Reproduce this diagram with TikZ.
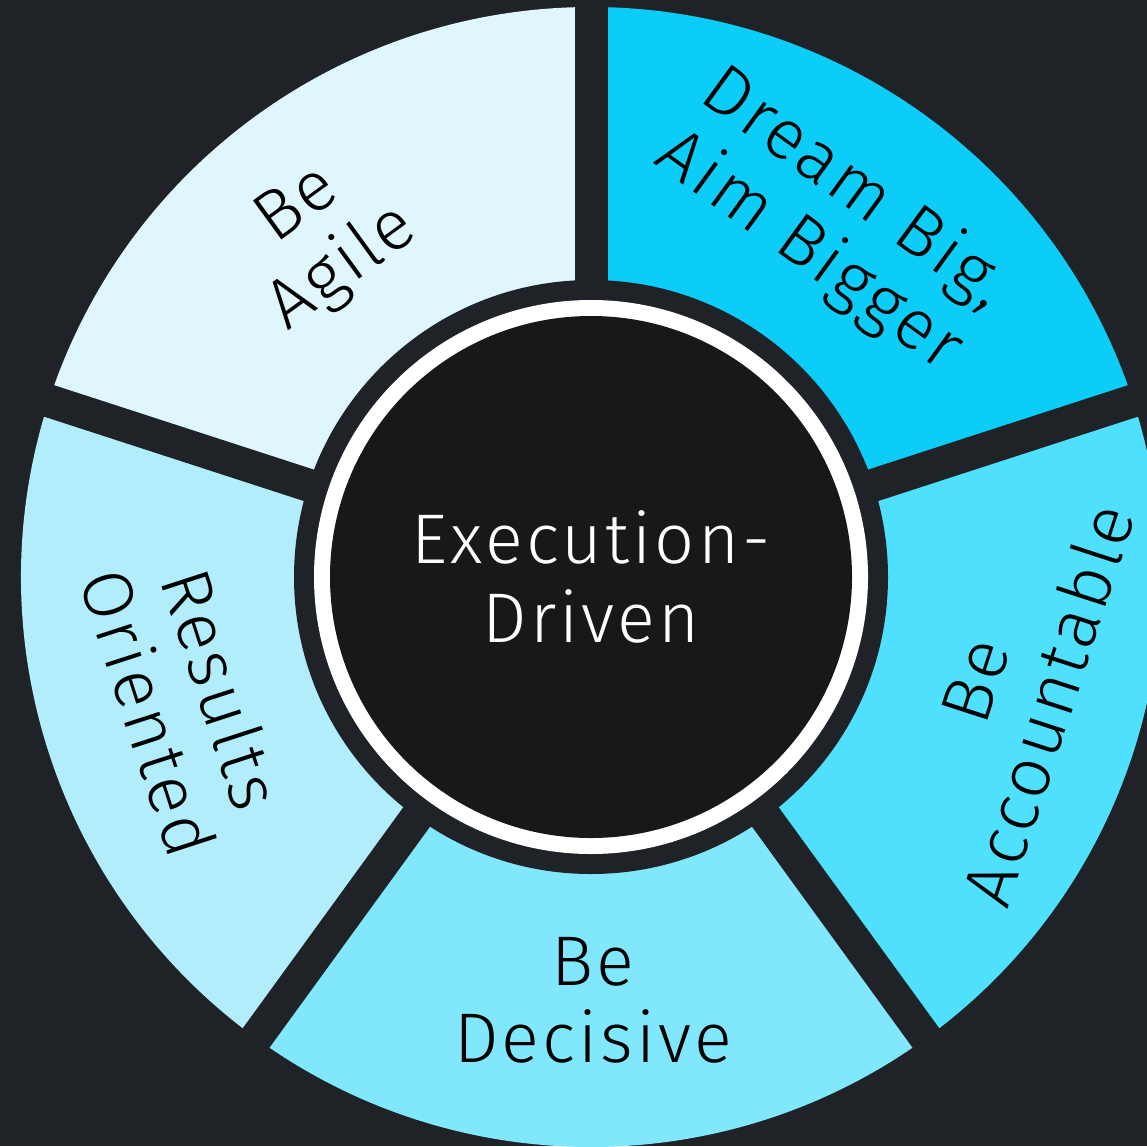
\documentclass[tikz,border=0pt]{standalone}
\usepackage{fontspec}
\IfFontExistsTF{Fira Sans Light}{\setmainfont{Fira Sans Light}[LetterSpace=4.5]}{\setmainfont{Fira Sans}[LetterSpace=4.5]}
\definecolor{bgdark}{HTML}{1F2327}
\definecolor{coreblack}{HTML}{181818}
\definecolor{agilefill}{HTML}{DEF6FC}
\definecolor{dreamfill}{HTML}{0CCDF7}
\definecolor{accountfill}{HTML}{4EE0FD}
\definecolor{decidefill}{HTML}{80E7FD}
\definecolor{resultsfill}{HTML}{B1EDFB}
\tikzset{
  seglabel/.style={align=center,text=black,font=\fontsize{20}{22}\selectfont},
  corelabel/.style={align=center,text=white,font=\fontsize{20}{22.5}\selectfont}
}
\begin{document}
\begin{tikzpicture}
    \useasboundingbox (-5.91,-5.69) rectangle (5.56,5.77);
    \clip (-5.91,-5.69) rectangle (5.56,5.77);
    \fill[bgdark] (-5.91,-5.69) rectangle (5.56,5.77);
    \fill[agilefill] (0,0) -- (90:5.7) arc (90:162:5.7) -- cycle;
    \fill[dreamfill] (0,0) -- (18:5.7) arc (18:90:5.7) -- cycle;
    \fill[accountfill] (0,0) -- (-54:5.7) arc (-54:18:5.7) -- cycle;
    \fill[decidefill] (0,0) -- (-126:5.7) arc (-126:-54:5.7) -- cycle;
    \fill[resultsfill] (0,0) -- (162:5.7) arc (162:234:5.7) -- cycle;
    \foreach \a in {90,18,-54,-126,162}
        \draw[bgdark,line width=0.33cm] (0,0) -- (\a:6.2);
    \fill[bgdark] (0,0) circle (2.97);
    \fill[white] (0,0) circle (2.77);
    \fill[coreblack] (0,0) circle (2.61);
    \node[corelabel] (core) at (0,0) {Execution-\\Driven};
    \node[seglabel,rotate=36] (agile) at (128.5:4.33) {Be\\Agile};
    \node[seglabel,rotate=-36] (dream) at (56:4.3) {Dream Big,\\Aim Bigger};
    \node[seglabel,rotate=72] (account) at (-15.4:4.37) {Be\\Accountable};
    \node[seglabel] (decide) at (-89.7:4.23) {Be\\Decisive};
    \node[seglabel,rotate=-72] (results) at (197:4.24) {Results\\Oriented};
\end{tikzpicture}
\end{document}
